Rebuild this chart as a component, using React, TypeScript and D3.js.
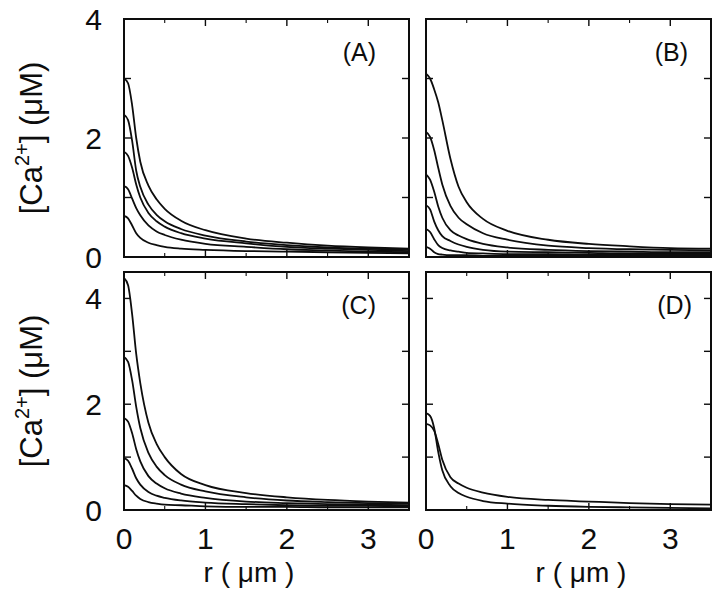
import React from "react";
import * as d3 from "d3";

// radial positions (μm) at which the profiles were read
const R = [0, 0.05, 0.1, 0.15, 0.2, 0.3, 0.4, 0.5, 0.7, 1.0, 1.5, 2.0, 2.5, 3.0, 3.5];

// Panel A: [Ca2+] (μM)
const A1 = [3.0, 2.92, 2.55, 2.0, 1.6, 1.2, 0.97, 0.81, 0.61, 0.45, 0.31, 0.24, 0.19, 0.16, 0.14];
const A2 = [2.39, 2.3, 1.95, 1.45, 1.18, 0.88, 0.71, 0.6, 0.47, 0.36, 0.26, 0.2, 0.16, 0.14, 0.12];
const A3 = [1.77, 1.7, 1.5, 1.22, 1.0, 0.74, 0.6, 0.51, 0.4, 0.31, 0.23, 0.17, 0.14, 0.12, 0.1];
const A4 = [1.19, 1.14, 0.98, 0.82, 0.7, 0.53, 0.43, 0.37, 0.29, 0.22, 0.17, 0.13, 0.11, 0.09, 0.08];
const A5 = [0.69, 0.65, 0.53, 0.4, 0.32, 0.24, 0.2, 0.17, 0.14, 0.12, 0.1, 0.09, 0.08, 0.07, 0.06];

// Panel B
const B1 = [3.08, 3.0, 2.82, 2.6, 2.3, 1.65, 1.18, 0.92, 0.64, 0.44, 0.29, 0.22, 0.18, 0.15, 0.14];
const B2 = [2.1, 2.02, 1.8, 1.5, 1.22, 0.86, 0.66, 0.55, 0.4, 0.29, 0.19, 0.15, 0.13, 0.12, 0.11];
const B3 = [1.39, 1.3, 1.1, 0.85, 0.66, 0.45, 0.36, 0.3, 0.22, 0.16, 0.12, 0.1, 0.09, 0.08, 0.08];
const B4 = [0.87, 0.8, 0.6, 0.45, 0.35, 0.27, 0.21, 0.17, 0.12, 0.09, 0.08, 0.07, 0.06, 0.06, 0.06];
const B5 = [0.47, 0.42, 0.3, 0.2, 0.15, 0.11, 0.09, 0.07, 0.06, 0.05, 0.05, 0.04, 0.04, 0.04, 0.04];
const B6 = [0.17, 0.14, 0.08, 0.05, 0.04, 0.03, 0.03, 0.03, 0.02, 0.02, 0.02, 0.02, 0.02, 0.02, 0.02];

// Panel C
const C1 = [4.39, 4.25, 3.7, 2.95, 2.4, 1.65, 1.25, 1.0, 0.68, 0.47, 0.32, 0.24, 0.19, 0.16, 0.14];
const C2 = [2.89, 2.8, 2.45, 1.95, 1.55, 1.08, 0.82, 0.66, 0.48, 0.35, 0.24, 0.18, 0.15, 0.13, 0.12];
const C3 = [1.74, 1.67, 1.45, 1.15, 0.92, 0.64, 0.5, 0.41, 0.31, 0.23, 0.16, 0.13, 0.11, 0.1, 0.09];
const C4 = [0.98, 0.93, 0.78, 0.6, 0.48, 0.34, 0.27, 0.23, 0.18, 0.14, 0.11, 0.09, 0.08, 0.08, 0.07];
const C5 = [0.47, 0.44, 0.36, 0.27, 0.21, 0.15, 0.12, 0.1, 0.09, 0.07, 0.06, 0.06, 0.05, 0.05, 0.05];

// Panel D
const D1 = [1.83, 1.78, 1.55, 1.1, 0.75, 0.45, 0.32, 0.25, 0.17, 0.12, 0.08, 0.06, 0.05, 0.04, 0.03];
const D2 = [1.63, 1.6, 1.5, 1.25, 0.95, 0.62, 0.5, 0.42, 0.33, 0.25, 0.19, 0.16, 0.13, 0.11, 0.1];

const X_TICK_LABELS = ["0", "1", "2", "3"];
const Y_TICK_LABELS = ["0", "2", "4"];
const PANEL_NAMES = ["(A)", "(B)", "(C)", "(D)"];
const Y_MAX_TOP = 4;
const Y_MAX_BOTTOM = 4.5;
const X_MAX = 3.5;

const FONT = "'Liberation Sans', Arial, Helvetica, sans-serif";
const INK = "#0d0d0d";

type PanelProps = {
  x0: number;
  y0: number;
  w: number;
  h: number;
  yMax: number;
  series: number[][];
  name: string;
  nameRight: number;
  showY: boolean;
  showX: boolean;
  xLabelCx?: number;
};

function Panel({ x0, y0, w, h, yMax, series, name, nameRight, showY, showX, xLabelCx }: PanelProps) {
  const xs = d3.scaleLinear().domain([0, X_MAX]).range([x0, x0 + w]);
  const ys = d3.scaleLinear().domain([0, yMax]).range([y0 + h, y0]);
  const line = d3
    .line<[number, number]>()
    .x((d) => xs(d[0]))
    .y((d) => ys(d[1]))
    .curve(d3.curveMonotoneX);

  const xMinor = d3.range(0.5, X_MAX, 1);
  const xMajor = d3.range(1, X_MAX, 1);
  const yMajor = d3.range(1, Math.floor(yMax) + 0.001, 1).filter((v) => v < yMax);

  return (
    <g>
      <defs>
        <clipPath id={`clip-${name}`}>
          <rect x={x0} y={y0} width={w} height={h} />
        </clipPath>
      </defs>
      <g clipPath={`url(#clip-${name})`}>
        {series.map((s, i) => (
          <path
            key={i}
            d={line(R.map((r, j) => [r, s[j]] as [number, number])) || ""}
            fill="none"
            stroke={INK}
            strokeWidth={1.8}
          />
        ))}
      </g>
      {xMajor.map((v) => (
        <g key={"xM" + v}>
          <line x1={xs(v)} x2={xs(v)} y1={y0 + h} y2={y0 + h - 7} stroke={INK} strokeWidth={1.4} />
          <line x1={xs(v)} x2={xs(v)} y1={y0} y2={y0 + 7} stroke={INK} strokeWidth={1.4} />
        </g>
      ))}
      {xMinor.map((v) => (
        <g key={"xm" + v}>
          <line x1={xs(v)} x2={xs(v)} y1={y0 + h} y2={y0 + h - 4} stroke={INK} strokeWidth={1.1} />
          <line x1={xs(v)} x2={xs(v)} y1={y0} y2={y0 + 4} stroke={INK} strokeWidth={1.1} />
        </g>
      ))}
      {yMajor.map((v) => (
        <g key={"yM" + v}>
          <line x1={x0} x2={x0 + 7} y1={ys(v)} y2={ys(v)} stroke={INK} strokeWidth={1.4} />
          <line x1={x0 + w} x2={x0 + w - 7} y1={ys(v)} y2={ys(v)} stroke={INK} strokeWidth={1.4} />
        </g>
      ))}
      <rect x={x0} y={y0} width={w} height={h} fill="none" stroke={INK} strokeWidth={2} />
      <text x={nameRight} y={y0 + 42} textAnchor="end" fontFamily={FONT} fontSize={25} fill={INK}>
        {name}
      </text>
      {showY &&
        Y_TICK_LABELS.map((t) => (
          <text
            key={"yl" + t}
            x={x0 - 22}
            y={ys(+t)}
            dy="0.36em"
            textAnchor="end"
            fontFamily={FONT}
            fontSize={30}
            fill={INK}
          >
            {t}
          </text>
        ))}
      {showX &&
        X_TICK_LABELS.map((t) => (
          <text
            key={"xl" + t}
            x={xs(+t)}
            y={y0 + h + 39}
            textAnchor="middle"
            fontFamily={FONT}
            fontSize={30}
            fill={INK}
          >
            {t}
          </text>
        ))}
      {showY && (
        <text
          transform={`translate(${x0 - 82},${y0 + h / 2}) rotate(-90)`}
          textAnchor="middle"
          fontFamily={FONT}
          fontSize={31}
          fill={INK}
        >
          [Ca
          <tspan fontSize={20} dy={-13}>2+</tspan>
          <tspan dy={13}>] (μM)</tspan>
        </text>
      )}
      {showX && (
        <text
          x={xLabelCx}
          y={y0 + h + 72}
          textAnchor="middle"
          fontFamily={FONT}
          fontSize={28}
          fill={INK}
          style={{ whiteSpace: "pre" }}
        >
          {"r ( μm )"}
        </text>
      )}
    </g>
  );
}

export default function App() {
  const W = 720;
  const H = 590;
  const left1 = 124;
  const left2 = 426;
  const pw = 285;
  const top1 = 19;
  const top2 = 272;
  const ph = 238;
  return (
    <svg width={W} height={H} style={{ position: "absolute", left: 0, top: 0, background: "#fff" }}>
      <rect width={W} height={H} fill="#fff" />
      <Panel x0={left1} y0={top1} w={pw} h={ph} yMax={Y_MAX_TOP} series={[A1, A2, A3, A4, A5]} name={PANEL_NAMES[0]} nameRight={376} showY showX={false} />
      <Panel x0={left2} y0={top1} w={pw} h={ph} yMax={Y_MAX_TOP} series={[B1, B2, B3, B4, B5, B6]} name={PANEL_NAMES[1]} nameRight={688} showY={false} showX={false} />
      <Panel x0={left1} y0={top2} w={pw} h={ph} yMax={Y_MAX_BOTTOM} series={[C1, C2, C3, C4, C5]} name={PANEL_NAMES[2]} nameRight={376} showY showX xLabelCx={249} />
      <Panel x0={left2} y0={top2} w={pw} h={ph} yMax={Y_MAX_BOTTOM} series={[D1, D2]} name={PANEL_NAMES[3]} nameRight={692} showY={false} showX xLabelCx={581} />
    </svg>
  );
}
